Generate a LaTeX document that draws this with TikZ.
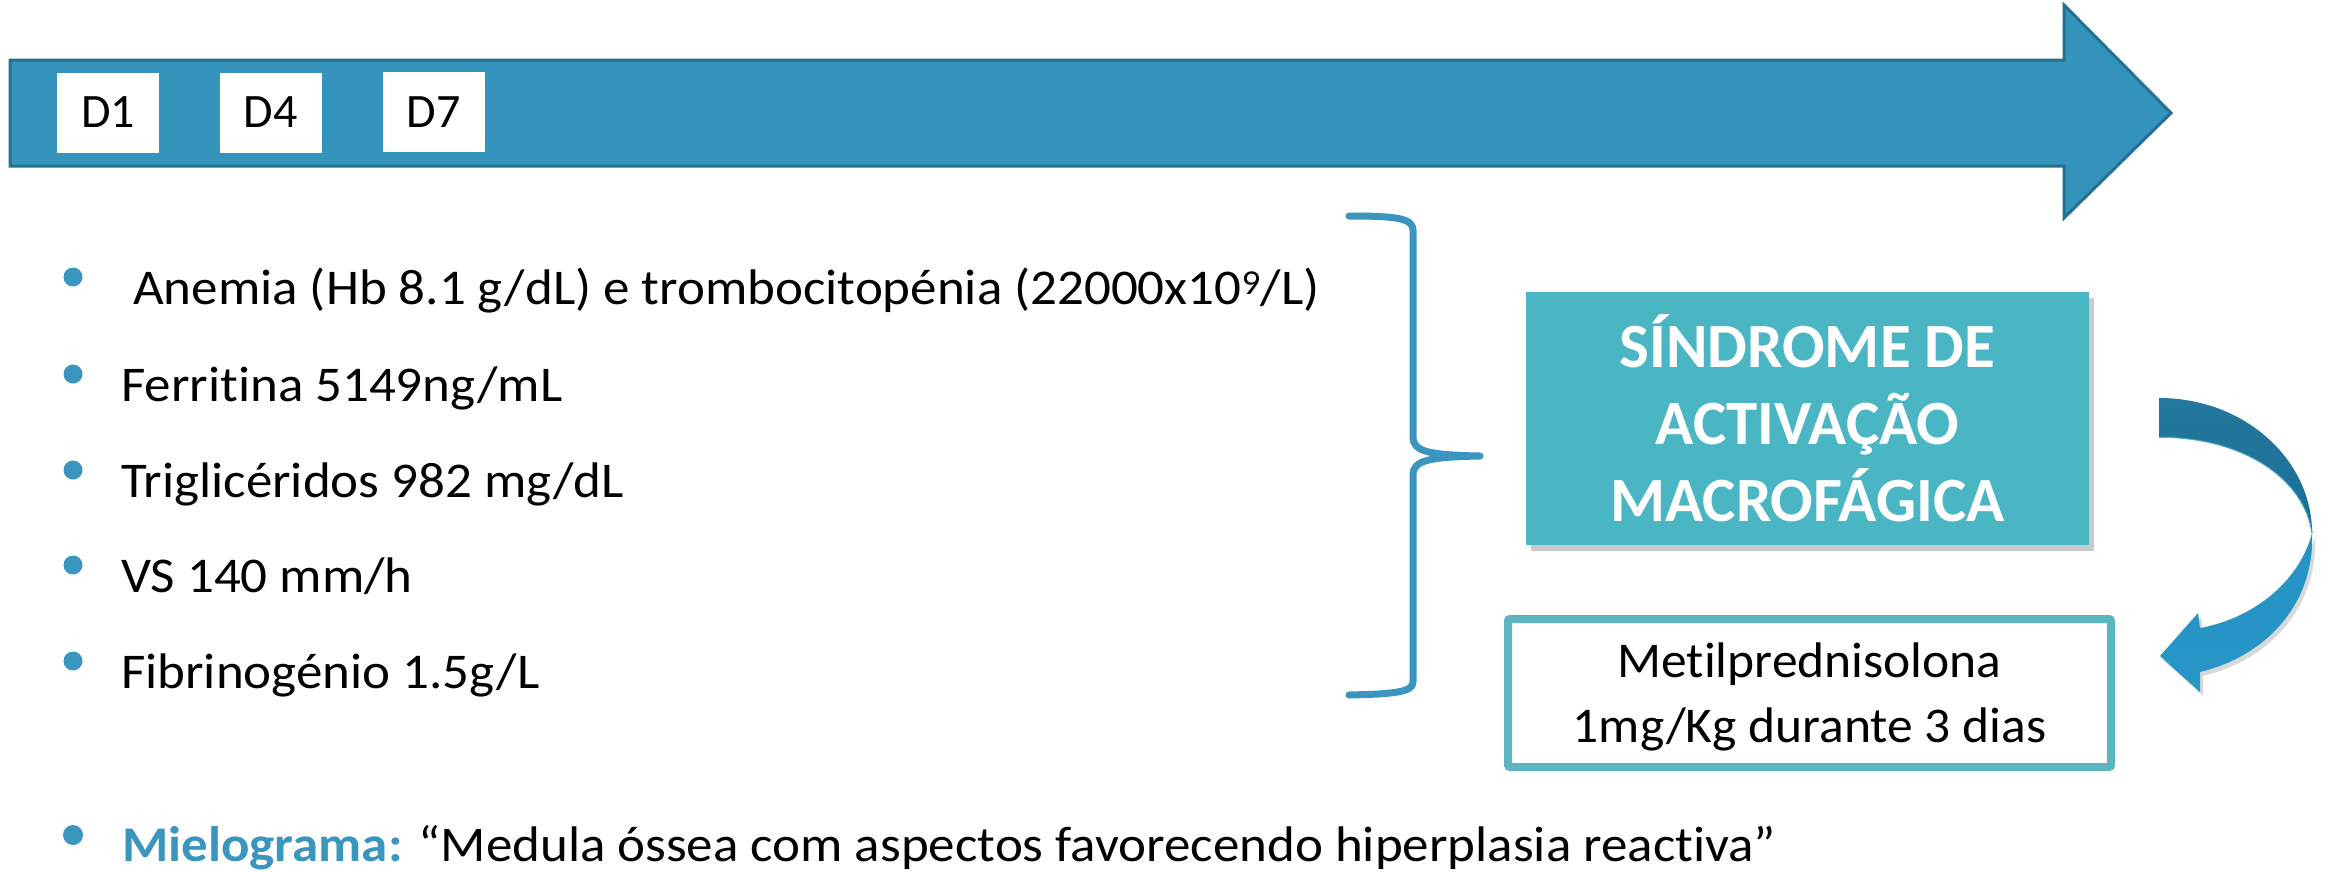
\documentclass[tikz,border=0pt]{standalone}
\usepackage{fontspec}
\setmainfont{Carlito}[Ligatures=NoCommon]
\newfontfamily\listfont{Carlito}[Ligatures=NoCommon, FakeStretch=1.06]
\newfontfamily\boxfont{Carlito}[Ligatures=NoCommon, FakeStretch=1.03]
\usetikzlibrary{shadows}
\definecolor{arrowfill}{HTML}{3594BB}
\definecolor{arrowedge}{HTML}{256F8F}
\definecolor{bulletblue}{HTML}{3A96BF}
\definecolor{samteal}{HTML}{4AB6C4}
\definecolor{boxedge}{HTML}{5CB5C1}
\definecolor{backtop}{HTML}{24789E}
\definecolor{backbot}{HTML}{1B6E93}
\definecolor{fronttop}{HTML}{2592C2}
\definecolor{frontbot}{HTML}{2797C8}
\begin{document}
\begin{tikzpicture}[x=1pt,y=-1pt,
  daybox/.style={fill=white, minimum width=102pt, minimum height=80pt, inner sep=0pt, font=\fontsize{48}{58}\selectfont},
  item/.style={anchor=base west, inner sep=0pt, font=\listfont\fontsize{50}{60}\selectfont},
  bracestyle/.style={draw=bulletblue, line width=7pt, line cap=round, line join=round},
  txt/.style={anchor=base, inner sep=0pt, font=\boxfont\fontsize{50}{60}\selectfont}
]
\useasboundingbox (0,0) rectangle (2330,871);

% timeline arrow
\draw[fill=arrowfill, draw=arrowedge, line width=3pt, line join=miter]
  (10,60) -- (2064,60) -- (2064,5) -- (2171,113) -- (2064,218) -- (2064,166) -- (10,166) -- cycle;
\node[daybox] (d1) at (108,112.5) {D1};
\node[daybox] (d4) at (270.5,112.5) {D4};
\node[daybox] (d7) at (433.5,112) {D7};

% bullets
\foreach \y in {277,374,470,565,661} \fill[bulletblue] (73,\y) circle (9.5);
\node[item] (anemia) at (133,304) {Anemia (Hb 8.1 g/dL) e trombocitopénia (22000x10\textsuperscript{9}/L)};
\node[item] (ferr) at (121,401) {Ferritina 5149ng/mL};
\node[item] (trig) at (121,497) {Triglicéridos 982 mg/dL};
\node[item] (vs) at (121,592) {VS 140 mm/h};
\node[item] (fib) at (121,688) {Fibrinogénio 1.5g/L};

% brace
\draw[bracestyle] (1349,216) .. controls (1395,216) and (1413,218) .. (1413,230)
  -- (1413,437) .. controls (1413,452) and (1430,455) .. (1480,456)
  .. controls (1430,457) and (1413,460) .. (1413,475)
  -- (1413,682) .. controls (1413,692) and (1395,694) .. (1349,695);

% SAM box
\node[fill=samteal, minimum width=563pt, minimum height=253pt, inner sep=0pt,
  drop shadow={shadow xshift=5pt, shadow yshift=-6pt, opacity=0.35, fill=black!60},
  text=white, align=center, font=\fontsize{63}{77}\selectfont\bfseries] (sam) at (1807.5,418.5)
  {SÍNDROME DE\\ACTIVAÇÃO\\MACROFÁGICA};

% treatment box
\draw[draw=boxedge, line width=8pt, rounded corners=2pt, fill=white] (1508,619) rectangle (2111,767);
\node[txt] (met1) at (1809.5,677) {Metilprednisolona};
\node[txt] (met2) at (1809.5,742) {1mg/Kg durante 3 dias};

% curved arrow: back (dark) part
\shade[top color=backtop, bottom color=backbot]
  (2159,398) .. controls (2245,398) and (2312,460) .. (2312,533)
  .. controls (2305,480) and (2245,437) .. (2159,437) -- cycle;
\draw[draw=fronttop, line width=1.5pt, opacity=0.7]
  (2312,533) .. controls (2305,480) and (2245,437) .. (2159,437);
% front (light) part with head
\path[top color=fronttop, bottom color=frontbot,
  drop shadow={shadow xshift=3pt, shadow yshift=-4pt, opacity=0.25, fill=black!60}]
  (2312,533) .. controls (2315,600) and (2270,655) .. (2200,672)
  -- (2200,692) -- (2160,656) -- (2198,613) -- (2200,628)
  .. controls (2255,618) and (2300,580) .. (2312,533) -- cycle;

% mielograma
\fill[bulletblue] (73,835) circle (10);
\node[item] (miel) at (122,861) {\textcolor{bulletblue}{\bfseries Mielograma:} “Medula óssea com aspectos favorecendo hiperplasia reactiva”};
\end{tikzpicture}
\end{document}
